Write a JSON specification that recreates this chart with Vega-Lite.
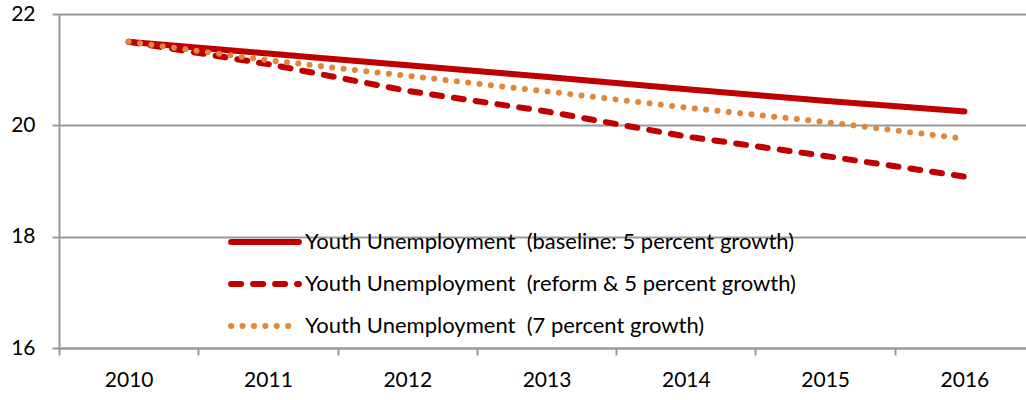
{
  "$schema": "https://vega.github.io/schema/vega-lite/v6.json",
  "autosize": {"type": "none"},
  "padding": {"left": 59, "top": 14, "right": 0, "bottom": 52},
  "width": 967,
  "height": 334,
  "background": "white",
  "config": {
    "view": {"stroke": null},
    "font": "Lato",
    "axis": {"labelFont": "Lato", "labelColor": "#000000"}
  },
  "data": {
    "values": [
      {"year": 2010, "series": "Youth Unemployment \u00a0(baseline: 5 percent growth)", "value": 21.5},
      {"year": 2011, "series": "Youth Unemployment \u00a0(baseline: 5 percent growth)", "value": 21.29},
      {"year": 2012, "series": "Youth Unemployment \u00a0(baseline: 5 percent growth)", "value": 21.08},
      {"year": 2013, "series": "Youth Unemployment \u00a0(baseline: 5 percent growth)", "value": 20.87},
      {"year": 2014, "series": "Youth Unemployment \u00a0(baseline: 5 percent growth)", "value": 20.65},
      {"year": 2015, "series": "Youth Unemployment \u00a0(baseline: 5 percent growth)", "value": 20.44},
      {"year": 2016, "series": "Youth Unemployment \u00a0(baseline: 5 percent growth)", "value": 20.25},
      {"year": 2010, "series": "Youth Unemployment \u00a0(reform & 5 percent growth)", "value": 21.5},
      {"year": 2011, "series": "Youth Unemployment \u00a0(reform & 5 percent growth)", "value": 21.1},
      {"year": 2012, "series": "Youth Unemployment \u00a0(reform & 5 percent growth)", "value": 20.62},
      {"year": 2013, "series": "Youth Unemployment \u00a0(reform & 5 percent growth)", "value": 20.25},
      {"year": 2014, "series": "Youth Unemployment \u00a0(reform & 5 percent growth)", "value": 19.8},
      {"year": 2015, "series": "Youth Unemployment \u00a0(reform & 5 percent growth)", "value": 19.45},
      {"year": 2016, "series": "Youth Unemployment \u00a0(reform & 5 percent growth)", "value": 19.08},
      {"year": 2010, "series": "Youth Unemployment \u00a0(7 percent growth)", "value": 21.5},
      {"year": 2011, "series": "Youth Unemployment \u00a0(7 percent growth)", "value": 21.17},
      {"year": 2012, "series": "Youth Unemployment \u00a0(7 percent growth)", "value": 20.89},
      {"year": 2013, "series": "Youth Unemployment \u00a0(7 percent growth)", "value": 20.61},
      {"year": 2014, "series": "Youth Unemployment \u00a0(7 percent growth)", "value": 20.32},
      {"year": 2015, "series": "Youth Unemployment \u00a0(7 percent growth)", "value": 20.06},
      {"year": 2016, "series": "Youth Unemployment \u00a0(7 percent growth)", "value": 19.76}
    ]
  },
  "mark": {"type": "line", "strokeCap": "round", "clip": false},
  "encoding": {
    "x": {
      "field": "year",
      "type": "quantitative",
      "scale": {"domain": [2009.5, 2016.442], "nice": false, "zero": false},
      "axis": {
        "title": null,
        "grid": false,
        "values": [2009.5, 2010, 2010.5, 2011, 2011.5, 2012, 2012.5, 2013, 2013.5, 2014, 2014.5, 2015, 2015.5, 2016],
        "labelExpr": "datum.value % 1 == 0 ? toString(datum.value) : ''",
        "labelFontSize": 21,
        "labelPadding": 14,
        "tickSize": 7,
        "tickWidth": 2,
        "tickColor": {"condition": {"test": "datum.value % 1 == 0", "value": "transparent"}, "value": "#999999"},
        "domainColor": "#999999",
        "domainWidth": 2
      }
    },
    "y": {
      "field": "value",
      "type": "quantitative",
      "scale": {"domain": [16, 22], "nice": false, "zero": false},
      "axis": {
        "title": null,
        "values": [16, 18, 20, 22],
        "labelFontSize": 21,
        "labelPadding": 17,
        "tickSize": 7,
        "tickWidth": 2,
        "tickColor": "#999999",
        "gridColor": "#999999",
        "gridWidth": 2,
        "domainColor": "#999999",
        "domainWidth": 2
      }
    },
    "color": {
      "field": "series",
      "type": "nominal",
      "sort": ["Youth Unemployment \u00a0(baseline: 5 percent growth)", "Youth Unemployment \u00a0(reform & 5 percent growth)", "Youth Unemployment \u00a0(7 percent growth)"],
      "scale": {
        "domain": ["Youth Unemployment \u00a0(baseline: 5 percent growth)", "Youth Unemployment \u00a0(reform & 5 percent growth)", "Youth Unemployment \u00a0(7 percent growth)"],
        "range": ["#C00000", "#C00000", "#E0873B"]
      },
      "legend": {
        "title": null,
        "orient": "none",
        "legendX": 169,
        "legendY": 207,
        "symbolType": "stroke",
        "symbolSize": 4600,
        "symbolStrokeWidth": 5,
        "clipHeight": 42,
        "rowPadding": 0,
        "labelFontSize": 22,
        "labelFont": "Lato",
        "labelColor": "#000000",
        "labelOffset": 3,
        "labelLimit": 700,
        "encode": {
          "symbols": {"update": {"strokeCap": {"value": "round"}, "opacity": {"value": 1}}}
        }
      }
    },
    "strokeDash": {
      "field": "series",
      "type": "nominal",
      "sort": ["Youth Unemployment \u00a0(baseline: 5 percent growth)", "Youth Unemployment \u00a0(reform & 5 percent growth)", "Youth Unemployment \u00a0(7 percent growth)"],
      "scale": {
        "domain": ["Youth Unemployment \u00a0(baseline: 5 percent growth)", "Youth Unemployment \u00a0(reform & 5 percent growth)", "Youth Unemployment \u00a0(7 percent growth)"],
        "range": [[1, 0], [10, 12], [0.1, 11.3]]
      },
      "legend": null
    },
    "strokeWidth": {
      "field": "series",
      "type": "nominal",
      "scale": {
        "domain": ["Youth Unemployment \u00a0(baseline: 5 percent growth)", "Youth Unemployment \u00a0(reform & 5 percent growth)", "Youth Unemployment \u00a0(7 percent growth)"],
        "range": [6, 6, 5]
      },
      "legend": null
    }
  }
}
